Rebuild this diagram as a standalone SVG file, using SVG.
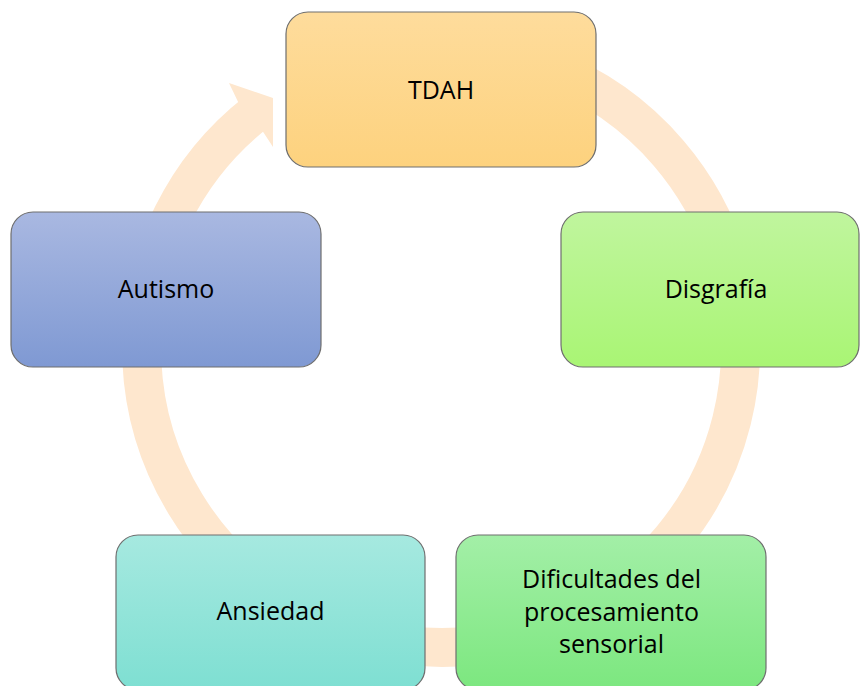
<svg xmlns="http://www.w3.org/2000/svg" width="860" height="686" viewBox="0 0 860 686">
<defs>
<linearGradient id="gO" x1="0" y1="0" x2="0" y2="1"><stop offset="0" stop-color="#FEDC9C"/><stop offset="1" stop-color="#FDD27E"/></linearGradient>
<linearGradient id="gG1" x1="0" y1="0" x2="0" y2="1"><stop offset="0" stop-color="#C0F59E"/><stop offset="1" stop-color="#A9F574"/></linearGradient>
<linearGradient id="gB" x1="0" y1="0" x2="0" y2="1"><stop offset="0" stop-color="#A9B8E1"/><stop offset="1" stop-color="#7F99D3"/></linearGradient>
<linearGradient id="gT" x1="0" y1="0" x2="0" y2="1"><stop offset="0" stop-color="#A6E9E0"/><stop offset="1" stop-color="#7EDFD2"/></linearGradient>
<linearGradient id="gG2" x1="0" y1="0" x2="0" y2="1"><stop offset="0" stop-color="#A3EFA7"/><stop offset="1" stop-color="#7CE77F"/></linearGradient>
</defs>
<style>
.box{stroke:#6e6e6e;stroke-width:1.2}
.lbl{font-family:"Open Sans","Liberation Sans",sans-serif;font-size:25px;fill:#000;text-anchor:middle}
.ring{fill:none;stroke:#FEE7CE;stroke-width:39}
.head{fill:#FEE7CE}
</style>
<rect width="860" height="686" fill="#fff"/>
<g id="connectors">
<path class="ring" d="M 414.9 49.6 A 299.5 299.5 0 1 1 256.6 112.0"/>
<polygon class="head" points="238,101.7 229,83 273,98 273,147 263,131.8 255,120"/>
</g>
<g id="tdah">
<rect class="box" x="286" y="12" width="310" height="155" rx="22" fill="url(#gO)"/>
<text class="lbl" x="441" y="99">TDAH</text>
</g>
<g id="disgrafia">
<rect class="box" x="561" y="212" width="298" height="155" rx="22" fill="url(#gG1)"/>
<text class="lbl" x="716" y="298">Disgrafía</text>
</g>
<g id="autismo">
<rect class="box" x="11" y="212" width="310" height="155" rx="22" fill="url(#gB)"/>
<text class="lbl" x="166" y="298">Autismo</text>
</g>
<g id="ansiedad">
<rect class="box" x="116" y="535" width="309" height="155" rx="22" fill="url(#gT)"/>
<text class="lbl" x="270.5" y="620">Ansiedad</text>
</g>
<g id="dificultades">
<rect class="box" x="456" y="535" width="310" height="155" rx="22" fill="url(#gG2)"/>
<text class="lbl" x="611.5" y="588">Dificultades del</text>
<text class="lbl" x="611.5" y="621">procesamiento</text>
<text class="lbl" x="611.5" y="653">sensorial</text>
</g>
</svg>
